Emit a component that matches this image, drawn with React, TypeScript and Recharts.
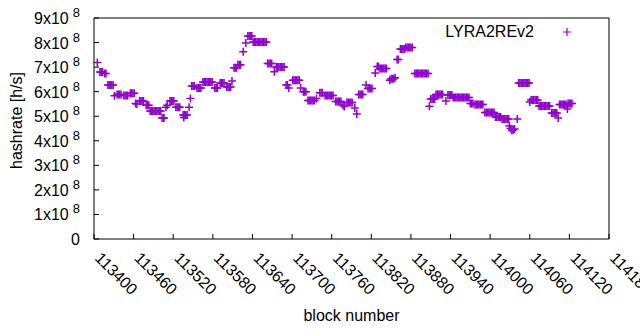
import React from "react";
import { ScatterChart, Scatter, XAxis, YAxis } from "recharts";

const PURPLE = "#9400d3";
const FONT = "'Liberation Sans', Arial, sans-serif";

const seriesName = "LYRA2REv2";

// block numbers (one line per run of points)
const blockNumbers = [
  113405,
  113409, 113411, 113413, 113416, 113418,
  113421, 113423, 113425, 113427, 113429,
  113431,
  113435, 113437, 113439, 113441,
  113445, 113447, 113449, 113451,
  113455, 113457, 113459, 113461,
  113463, 113465,
  113469, 113471, 113473, 113475,
  113479, 113481, 113483,
  113485, 113487, 113489, 113491, 113493, 113495, 113497, 113499, 113501,
  113503, 113505, 113506,
  113509, 113511,
  113515, 113517, 113519, 113521,
  113524, 113526, 113528, 113530,
  113535, 113536, 113537, 113539, 113541,
  113544, 113546,
  113548, 113550, 113552,
  113556, 113558, 113560, 113562,
  113565, 113567, 113569, 113571, 113573, 113575, 113577, 113579,
  113583, 113585, 113587,
  113591, 113593, 113595, 113597,
  113601, 113603, 113605, 113607, 113609,
  113612, 113614, 113616,
  113618, 113620, 113622,
  113626, 113630,
  113633, 113635, 113637, 113639,
  113641, 113643, 113645, 113647, 113649, 113651, 113653, 113655, 113657, 113659, 113661,
  113663, 113665, 113667, 113669,
  113673,
  113676, 113678, 113680, 113682, 113684, 113686, 113688,
  113691, 113693, 113695,
  113701, 113703, 113705, 113707, 113709, 113711,
  113713,
  113717, 113719, 113721,
  113724, 113726, 113728, 113730, 113732, 113734,
  113737,
  113742, 113744, 113746,
  113750, 113752, 113754, 113756, 113758, 113760, 113762,
  113766, 113768, 113770, 113772, 113774,
  113777, 113779,
  113783, 113785, 113787, 113789, 113791,
  113795, 113798,
  113801, 113803, 113805, 113807,
  113812,
  113815, 113817, 113819, 113821,
  113826,
  113829, 113831,
  113833, 113835, 113837, 113839, 113841, 113843,
  113848,
  113850, 113852, 113854,
  113856,
  113859, 113861,
  113864, 113866, 113868, 113870,
  113872, 113874, 113876, 113878, 113880, 113882,
  113886, 113888, 113890, 113892, 113894, 113896, 113898, 113900, 113902, 113904, 113906,
  113908,
  113910, 113912, 113914, 113916,
  113918, 113920, 113922, 113924, 113926, 113928,
  113933,
  113936, 113938, 113940, 113942,
  113944, 113946, 113948, 113950, 113952, 113954, 113956, 113958, 113960, 113962, 113964, 113966, 113968,
  113970, 113972, 113974,
  113977, 113979, 113981, 113983, 113985, 113987, 113989,
  113992, 113994, 113996, 113998, 114000, 114002, 114004, 114006,
  114008, 114010, 114012, 114014, 114016,
  114018, 114020, 114022, 114024, 114026, 114028,
  114029, 114031, 114033, 114035, 114037,
  114041,
  114043, 114045, 114047, 114049, 114051, 114053, 114055, 114057, 114059,
  114060,
  114062, 114064, 114066, 114068, 114070, 114072,
  114074, 114076, 114078, 114080, 114082, 114084, 114086, 114088, 114090,
  114093, 114095, 114097, 114099, 114101,
  114103,
  114105, 114107, 114109, 114111, 114113, 114115,
  114117,
  114118, 114120, 114122, 114124,
];

// hashrate in units of 1e8 h/s, same line layout as blockNumbers
const hashrateE8 = [
  7.19,
  6.8, 6.8, 6.8, 6.74, 6.74,
  6.27, 6.27, 6.27, 6.27, 6.27,
  5.83,
  5.88, 5.88, 5.88, 5.88,
  5.84, 5.84, 5.84, 5.84,
  5.94, 5.94, 5.94, 5.94,
  5.52, 5.5,
  5.62, 5.62, 5.62, 5.62,
  5.45, 5.45, 5.45,
  5.21, 5.21, 5.21, 5.21, 5.21, 5.21, 5.21, 5.21, 5.21,
  4.93, 4.93, 4.93,
  5.37, 5.45,
  5.62, 5.62, 5.62, 5.62,
  5.37, 5.37, 5.37, 5.37,
  5.05, 4.95, 5.05, 5.05, 5.05,
  5.37, 5.72,
  6.23, 6.23, 6.23,
  6.15, 6.15, 6.15, 6.15,
  6.39, 6.39, 6.39, 6.39, 6.39, 6.39, 6.39, 6.39,
  6.15, 6.15, 6.15,
  6.35, 6.35, 6.35, 6.35,
  6.19, 6.19, 6.19, 6.19, 6.43,
  6.97, 6.97, 6.97,
  7.1, 7.1, 7.1,
  7.63, 7.98,
  8.27, 8.27, 8.27, 8.27,
  8.02, 8.02, 8.02, 8.02, 8.02, 8.02, 8.02, 8.02, 8.02, 8.02, 8.02,
  7.15, 7.15, 7.15, 7.15,
  6.81,
  7.0, 7.0, 7.0, 7.0, 7.0, 7.0, 7.0,
  6.27, 6.27, 6.15,
  6.46, 6.46, 6.46, 6.46, 6.46, 6.46,
  6.15,
  6.0, 6.0, 6.0,
  5.64, 5.64, 5.64, 5.64, 5.64, 5.64,
  5.72,
  5.96, 5.96, 5.96,
  5.84, 5.84, 5.84, 5.84, 5.84, 5.84, 5.84,
  5.6, 5.6, 5.6, 5.6, 5.6,
  5.46, 5.4,
  5.56, 5.56, 5.56, 5.56, 5.56,
  5.33, 5.09,
  5.88, 5.88, 5.88, 5.88,
  6.27,
  6.13, 6.13, 6.13, 6.13,
  6.76,
  7.02, 7.02,
  6.94, 6.94, 6.94, 6.94, 6.94, 6.94,
  6.47,
  6.53, 6.53, 6.53,
  6.57,
  7.31, 7.31,
  7.74, 7.74, 7.74, 7.74,
  7.8, 7.8, 7.8, 7.8, 7.8, 7.8,
  6.74, 6.74, 6.74, 6.74, 6.74, 6.74, 6.74, 6.74, 6.74, 6.74, 6.74,
  5.41,
  5.7, 5.7, 5.7, 5.7,
  5.88, 5.88, 5.88, 5.88, 5.88, 5.88,
  5.62,
  5.86, 5.86, 5.86, 5.86,
  5.76, 5.76, 5.76, 5.76, 5.76, 5.76, 5.76, 5.76, 5.76, 5.76, 5.76, 5.76, 5.76,
  5.52, 5.52, 5.52,
  5.48, 5.48, 5.48, 5.48, 5.48, 5.48, 5.48,
  5.15, 5.15, 5.15, 5.15, 5.15, 5.15, 5.15, 5.15,
  4.97, 4.97, 4.97, 4.97, 4.97,
  4.89, 4.89, 4.89, 4.89, 4.89, 4.89,
  4.6, 4.5, 4.42, 4.45, 4.48,
  4.89,
  6.35, 6.35, 6.35, 6.35, 6.35, 6.35, 6.35, 6.35, 6.35,
  5.58,
  5.66, 5.66, 5.66, 5.66, 5.66, 5.66,
  5.42, 5.42, 5.42, 5.42, 5.42, 5.42, 5.42, 5.42, 5.42,
  5.13, 5.13, 5.13, 5.13, 5.13,
  4.93,
  5.48, 5.48, 5.48, 5.48, 5.48, 5.48,
  5.29,
  5.52, 5.52, 5.52, 5.52,
];

const xTicks = [
  113400, 113460, 113520, 113580, 113640, 113700, 113760, 113820, 113880,
  113940, 114000, 114060, 114120, 114180,
];
const yTicks = [0, 1e8, 2e8, 3e8, 4e8, 5e8, 6e8, 7e8, 8e8, 9e8];

const data = blockNumbers.map((b, i) => ({ block: b, hashrate: hashrateE8[i] * 1e8 }));

const TICK_LEN = 5;

const BottomTick = (props: any) => {
  const { x, y, payload } = props;
  const ty = y + 20;
  return (
    <g>
      <line x1={x} x2={x} y1={y} y2={y - TICK_LEN} stroke="#000" />
      <text
        x={x}
        y={ty}
        transform={`rotate(45 ${x} ${ty})`}
        fontSize={16}
        fontFamily={FONT}
        fill="#000"
      >
        {payload.value}
      </text>
    </g>
  );
};

const TopTick = (props: any) => {
  const { x, y } = props;
  return <line x1={x} x2={x} y1={y} y2={y + TICK_LEN} stroke="#000" />;
};

const LeftTick = (props: any) => {
  const { x, y, payload } = props;
  const v = payload.value / 1e8;
  return (
    <g>
      <line x1={x} x2={x + TICK_LEN} y1={y} y2={y} stroke="#000" />
      <text x={x - 14} y={y + 6} textAnchor="end" fontSize={16} fontFamily={FONT} fill="#000">
        {v === 0 ? (
          "0"
        ) : (
          <>
            <tspan>{`${v}x10`}</tspan>
            <tspan dx={4} dy={-7} fontSize={13}>
              8
            </tspan>
          </>
        )}
      </text>
    </g>
  );
};

const RightTick = (props: any) => {
  const { x, y } = props;
  return <line x1={x} x2={x - TICK_LEN} y1={y} y2={y} stroke="#000" />;
};

const PlusMark = (props: any) => {
  const { cx, cy } = props;
  if (cx == null || cy == null) return <g />;
  return (
    <path
      d={`M${cx - 4},${cy}H${cx + 4}M${cx},${cy - 4}V${cy + 4}`}
      stroke={PURPLE}
      strokeWidth={1.5}
      fill="none"
    />
  );
};

const XLabel = (props: any) => {
  const { viewBox } = props;
  const cx = viewBox.x + viewBox.width / 2;
  return (
    <text x={cx} y={321} textAnchor="middle" fontSize={16} fontFamily={FONT} fill="#000">
      block number
    </text>
  );
};

const YLabel = (props: any) => {
  const { viewBox } = props;
  const lx = 22;
  const ly = viewBox.y + viewBox.height / 2 - 8;
  return (
    <text
      x={lx}
      y={ly}
      transform={`rotate(-90 ${lx} ${ly})`}
      textAnchor="middle"
      fontSize={16}
      fontFamily={FONT}
      fill="#000"
    >
      hashrate [h/s]
    </text>
  );
};

export default function App() {
  return (
    <div style={{ position: "absolute", left: 0, top: 0, width: 640, height: 330, background: "#fff" }}>
      <ScatterChart width={640} height={330} margin={{ top: 0, right: 0, bottom: 0, left: 0 }}>
        <XAxis
          xAxisId="bottom"
          dataKey="block"
          type="number"
          domain={[113400, 114180]}
          ticks={xTicks}
          interval={0}
          height={91}
          tickSize={0}
          tickMargin={0}
          tickLine={false}
          stroke="#000"
          tick={<BottomTick />}
          label={<XLabel />}
        />
        <XAxis
          xAxisId="top"
          orientation="top"
          type="number"
          domain={[113400, 114180]}
          ticks={xTicks}
          interval={0}
          height={18}
          tickSize={0}
          tickMargin={0}
          tickLine={false}
          stroke="#000"
          tick={<TopTick />}
        />
        <YAxis
          yAxisId="left"
          dataKey="hashrate"
          type="number"
          domain={[0, 9e8]}
          ticks={yTicks}
          interval={0}
          width={94}
          tickSize={0}
          tickMargin={0}
          tickLine={false}
          stroke="#000"
          tick={<LeftTick />}
          label={<YLabel />}
        />
        <YAxis
          yAxisId="right"
          orientation="right"
          type="number"
          domain={[0, 9e8]}
          ticks={yTicks}
          interval={0}
          width={31}
          tickSize={0}
          tickMargin={0}
          tickLine={false}
          stroke="#000"
          tick={<RightTick />}
        />
        <Scatter
          name={seriesName}
          data={data}
          xAxisId="bottom"
          yAxisId="left"
          fill={PURPLE}
          shape={<PlusMark />}
          isAnimationActive={false}
        />
      </ScatterChart>
      <div
        style={{
          position: "absolute",
          left: 400,
          top: 22,
          width: 176,
          height: 20,
          fontFamily: FONT,
          fontSize: 16,
          color: "#000",
        }}
      >
        <span style={{ position: "absolute", right: 42, top: 0, lineHeight: "20px" }}>{seriesName}</span>
        <svg style={{ position: "absolute", left: 162, top: 5 }} width={10} height={10}>
          <path d="M1,5H9M5,1V9" stroke={PURPLE} strokeWidth={1.2} />
        </svg>
      </div>
    </div>
  );
}
